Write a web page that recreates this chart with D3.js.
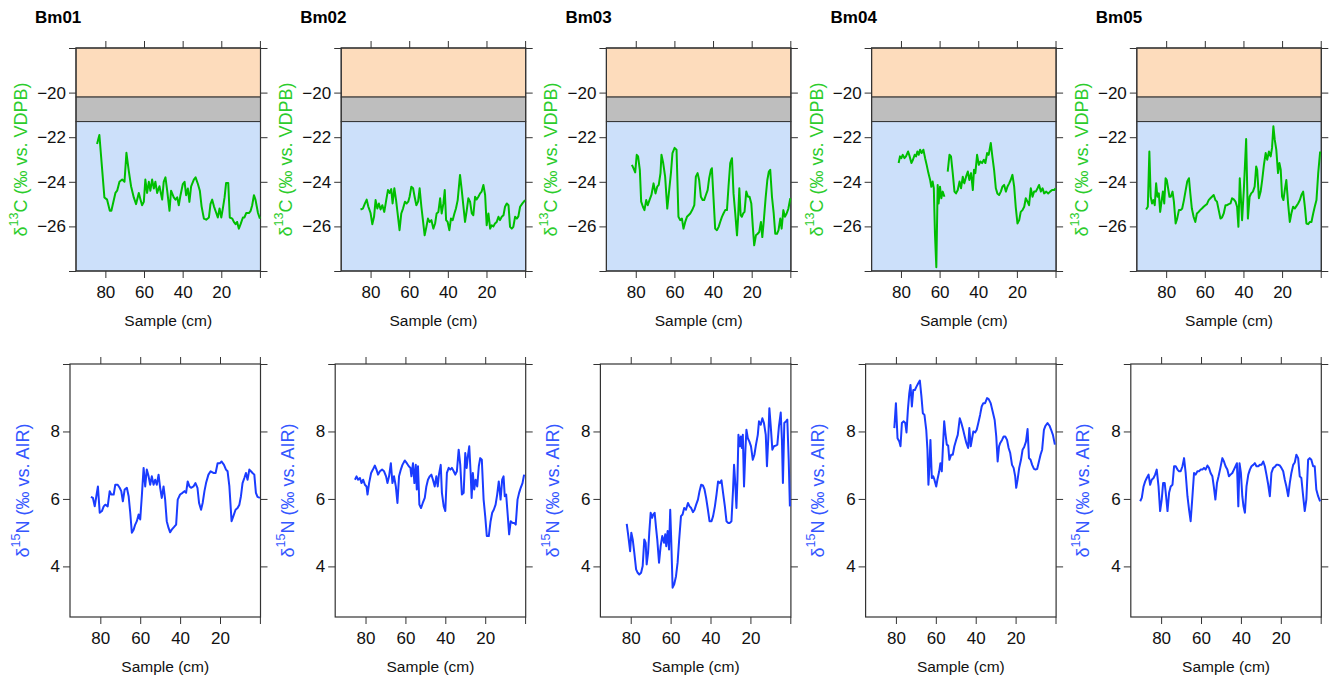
<!DOCTYPE html>
<html>
<head>
<meta charset="utf-8">
<script src="https://cdn.jsdelivr.net/npm/d3@7"></script>
<style>
  body { margin: 0; background: #fff; }
  text { font-family: "Liberation Sans", Arial, sans-serif; }
</style>
</head>
<body>
<div id="chart"></div>
<script>
//Dimensions of the whole figure
const width = 1331;
const height = 677;

//Core names (one column each)
const cores = ["Bm01", "Bm02", "Bm03", "Bm04", "Bm05"];

//delta 13C series, [depth (cm), value]
const bm01C = [[84.3,-22.3],[83.1,-21.9],[80.5,-24.7],[79.1,-24.8],[77.7,-25.3],[76.9,-25.3],[74.8,-24.5],[73.9,-24.4],[72.7,-24.0],[71.3,-23.9],[70.1,-24.0],[69.1,-22.7],[67.9,-23.5],[66.7,-24.2],[65.3,-24.7],[64.1,-25.0],[62.7,-24.5],[61.8,-24.8],[61.0,-25.05],[60.1,-24.9],[59.3,-23.9],[58.4,-24.5],[57.5,-24.0],[56.7,-24.4],[55.8,-23.9],[54.9,-24.3],[54.1,-24.0],[53.2,-24.5],[52.0,-24.2],[50.6,-24.8],[49.8,-24.0],[48.9,-23.8],[48.0,-24.4],[46.8,-25.3],[46.0,-24.4],[44.6,-24.7],[43.7,-24.8],[42.8,-24.7],[42.0,-25.05],[41.1,-24.6],[39.9,-24.1],[39.0,-24.0],[38.2,-24.6],[37.3,-24.3],[36.5,-24.9],[35.6,-24.2],[34.2,-23.9],[33.3,-23.8],[32.1,-24.1],[31.1,-24.4],[30.2,-25.1],[29.0,-25.65],[27.8,-25.7],[26.4,-25.6],[25.6,-25.0],[24.7,-24.8],[23.8,-25.1],[22.6,-25.4],[21.8,-25.6],[20.9,-25.2],[20.0,-25.6],[19.2,-25.2],[18.3,-24.7],[17.5,-24.05],[16.4,-24.05],[15.6,-25.6],[14.3,-25.65],[13.5,-25.8],[12.6,-25.9],[11.8,-25.8],[10.9,-26.1],[10.0,-25.9],[8.8,-25.6],[8.0,-25.6],[7.1,-25.4],[5.7,-25.4],[4.8,-25.3],[4.0,-25.05],[3.1,-24.6],[2.3,-24.8],[1.0,-25.4],[0.0,-25.65]];
const bm02C = [[85.2,-25.24],[84.0,-25.2],[82.9,-24.97],[82.0,-24.8],[81.2,-25.1],[80.0,-25.4],[79.1,-25.9],[78.2,-25.57],[77.4,-24.82],[76.5,-25.2],[75.7,-24.97],[74.8,-25.24],[73.9,-25.05],[72.9,-25.35],[71.9,-24.82],[71.0,-24.37],[70.1,-24.5],[69.3,-24.33],[68.6,-24.97],[67.7,-24.29],[66.8,-24.82],[66.0,-25.42],[65.0,-26.17],[64.1,-25.42],[63.2,-25.2],[62.2,-24.89],[61.3,-24.97],[60.5,-24.89],[59.8,-24.67],[58.9,-24.22],[58.0,-24.29],[57.2,-24.67],[56.3,-25.05],[55.4,-24.89],[54.6,-24.29],[53.7,-25.12],[52.9,-25.72],[52.0,-26.4],[51.1,-26.02],[50.3,-25.65],[49.4,-25.8],[48.5,-25.72],[47.5,-26.1],[46.6,-25.87],[45.8,-25.42],[44.9,-25.35],[44.0,-24.74],[43.2,-25.42],[42.3,-24.97],[41.6,-24.37],[40.9,-25.72],[40.1,-25.8],[39.2,-26.17],[38.4,-25.65],[37.5,-25.72],[36.6,-25.42],[35.8,-25.2],[34.9,-24.82],[33.7,-23.69],[32.8,-24.37],[32.0,-25.05],[31.1,-25.8],[30.2,-25.27],[29.4,-24.74],[28.5,-24.89],[27.6,-25.42],[26.8,-25.5],[25.9,-24.67],[25.1,-24.79],[24.2,-24.67],[23.3,-24.52],[22.5,-24.44],[21.6,-24.14],[20.7,-24.59],[19.9,-25.95],[19.0,-25.42],[18.1,-26.1],[17.3,-25.95],[16.4,-26.0],[15.6,-25.87],[14.7,-25.8],[13.8,-25.57],[13.0,-25.72],[12.1,-25.57],[11.2,-25.5],[10.4,-25.12],[9.5,-24.97],[8.6,-25.05],[7.8,-26.02],[6.9,-26.1],[6.1,-26.02],[5.2,-25.57],[4.3,-25.65],[3.5,-25.55],[2.6,-25.12],[1.4,-24.97],[0.0,-24.82]];
const bm03C = [[82.0,-23.24],[81.2,-23.39],[80.3,-23.58],[79.5,-22.79],[78.8,-22.86],[77.9,-23.46],[77.2,-24.89],[76.3,-25.12],[75.5,-25.27],[74.6,-24.82],[73.8,-25.05],[72.9,-24.82],[71.9,-24.59],[70.8,-24.07],[69.8,-24.52],[68.9,-24.22],[68.1,-24.14],[67.2,-23.61],[66.7,-22.79],[65.8,-23.16],[64.8,-23.77],[63.7,-25.2],[62.7,-24.37],[61.8,-23.61],[61.0,-22.71],[59.9,-22.48],[58.9,-22.56],[57.9,-25.57],[57.0,-25.72],[56.1,-25.65],[55.3,-26.1],[54.4,-25.8],[53.5,-25.57],[52.7,-25.5],[51.8,-25.42],[50.8,-25.27],[49.7,-25.05],[48.9,-23.77],[48.0,-23.61],[47.2,-23.92],[46.3,-24.67],[45.4,-24.82],[44.6,-24.82],[43.7,-24.59],[42.8,-24.37],[42.0,-23.84],[41.1,-23.46],[40.6,-23.39],[39.7,-24.82],[38.9,-26.1],[38.0,-26.17],[37.1,-26.02],[36.3,-25.8],[35.4,-25.57],[34.6,-25.42],[33.7,-25.27],[32.8,-25.27],[32.0,-24.22],[31.1,-23.16],[30.2,-22.94],[29.4,-24.52],[28.5,-25.42],[27.6,-26.4],[27.0,-25.57],[26.4,-24.29],[25.7,-25.5],[25.1,-25.57],[24.4,-25.42],[23.7,-25.35],[22.8,-24.44],[21.9,-24.67],[21.1,-24.67],[20.2,-24.97],[19.4,-26.02],[18.7,-26.85],[17.8,-26.4],[16.9,-26.33],[16.1,-26.25],[15.2,-25.8],[14.5,-26.48],[13.7,-25.72],[12.8,-24.74],[11.9,-23.92],[11.1,-23.54],[10.4,-23.46],[9.5,-24.67],[8.6,-25.42],[7.8,-26.33],[6.9,-26.33],[6.1,-26.17],[5.2,-25.65],[4.5,-26.1],[3.6,-25.27],[2.8,-25.57],[1.9,-25.42],[1.0,-25.2],[0.0,-24.74]];
const bm04C = [[81.2,-23.16],[80.5,-22.86],[79.8,-22.94],[79.1,-22.79],[78.2,-22.94],[77.4,-22.86],[76.3,-22.64],[75.5,-22.86],[74.6,-23.16],[73.8,-23.01],[72.9,-22.79],[72.2,-22.86],[71.5,-22.64],[70.8,-22.79],[70.1,-22.56],[69.3,-22.71],[68.4,-22.56],[67.5,-22.94],[66.7,-23.24],[65.8,-23.61],[64.9,-23.92],[64.3,-24.22],[63.6,-23.99],[63.0,-24.29],[62.4,-26.33],[61.7,-27.83],[61.0,-24.14],[60.5,-24.97],[59.8,-24.22],[59.1,-24.74],[58.4,-24.44],[57.5,-24.67],[56.6,null],[55.8,-23.54],[54.9,-22.79],[54.1,-22.86],[53.2,-23.61],[52.3,-24.44],[51.5,-24.52],[50.6,-24.37],[49.7,-23.99],[48.9,-24.29],[48.0,-23.77],[47.2,-24.07],[46.3,-23.77],[45.4,-23.54],[44.6,-23.92],[43.7,-23.61],[42.8,-24.37],[42.2,-23.46],[41.5,-23.61],[40.6,-22.79],[39.7,-23.24],[38.9,-23.09],[38.0,-23.16],[37.1,-23.01],[36.3,-23.16],[35.4,-22.71],[34.6,-22.79],[33.5,-22.26],[32.7,-22.86],[31.8,-23.46],[30.9,-24.29],[30.1,-24.52],[29.2,-24.59],[28.3,-24.44],[27.5,-24.22],[26.6,-24.14],[25.7,-24.44],[24.9,-24.22],[24.0,-24.07],[23.2,-23.92],[22.3,-23.69],[21.4,-24.22],[20.6,-25.12],[19.7,-25.87],[18.8,-25.72],[18.0,-25.35],[17.1,-25.27],[16.2,-25.12],[15.4,-24.74],[14.5,-24.89],[13.7,-25.05],[12.8,-24.29],[11.9,-24.67],[11.1,-24.44],[10.2,-24.44],[9.3,-24.29],[8.5,-24.14],[7.6,-24.44],[6.7,-24.29],[5.9,-24.52],[4.8,-24.44],[3.8,-24.52],[2.8,-24.44],[1.8,-24.37],[0.7,-24.37],[0.0,-24.29]];
const bm05C = [[90.4,-25.24],[89.5,-25.12],[88.7,-22.64],[88.0,-24.67],[87.3,-24.97],[86.6,-24.82],[85.9,-25.05],[85.2,-24.07],[84.5,-24.67],[83.8,-24.52],[83.1,-25.35],[82.4,-24.89],[81.7,-24.44],[81.0,-24.97],[80.3,-23.84],[79.7,-23.92],[79.0,-24.29],[78.3,-24.67],[77.6,-24.67],[76.7,-24.44],[76.0,-24.89],[75.1,-25.87],[74.3,-25.65],[73.4,-25.27],[72.5,-25.27],[71.7,-25.2],[70.8,-24.82],[69.9,-24.37],[69.1,-23.99],[68.2,-23.84],[67.5,-24.52],[66.7,-25.2],[65.8,-25.57],[64.9,-25.8],[64.1,-25.42],[63.2,-25.35],[62.4,-25.27],[61.5,-25.2],[60.6,-25.12],[59.7,-25.05],[58.9,-25.0],[58.0,-24.82],[57.1,-24.74],[56.3,-24.67],[55.4,-24.59],[54.5,-24.82],[53.7,-24.89],[52.8,-25.27],[51.9,-25.65],[51.1,-25.6],[50.2,-25.42],[49.3,-25.05],[48.5,-25.05],[47.6,-25.0],[46.7,-24.97],[45.9,-24.74],[45.0,-24.79],[44.1,-24.89],[43.3,-25.12],[42.6,-26.02],[41.9,-23.84],[40.7,-25.72],[39.8,-24.37],[38.6,-22.08],[37.7,-25.65],[36.8,-24.67],[36.0,-24.52],[35.1,-24.44],[34.2,-24.22],[33.4,-23.31],[32.9,-23.46],[32.0,-24.74],[31.1,-24.44],[30.3,-23.92],[29.4,-23.24],[28.5,-22.71],[27.7,-23.01],[26.8,-22.64],[25.9,-22.86],[25.2,-22.48],[24.5,-21.51],[23.8,-22.11],[23.0,-22.56],[22.1,-23.61],[21.4,-23.16],[20.7,-23.46],[20.0,-24.67],[19.3,-24.82],[18.6,-24.37],[17.8,-23.92],[16.9,-24.97],[16.0,-25.8],[15.2,-25.42],[14.3,-25.12],[13.4,-25.2],[12.6,-25.09],[11.7,-24.97],[10.8,-24.82],[10.0,-24.59],[9.1,-24.44],[8.2,-25.12],[7.4,-25.87],[6.5,-25.9],[5.6,-25.8],[4.8,-25.8],[3.9,-25.42],[3.1,-25.12],[2.2,-24.82],[1.3,-23.61],[0.3,-22.64]];

//delta 15N series, [depth (cm), value]
const bm01N = [[84.7,6.06],[83.7,6.03],[82.8,5.78],[82.0,6.08],[81.2,6.37],[80.3,5.59],[79.2,5.64],[78.3,5.78],[77.5,5.83],[76.3,5.78],[75.3,6.23],[74.5,6.13],[73.3,6.13],[72.5,6.42],[71.3,6.42],[70.3,6.33],[69.5,6.23],[68.7,5.93],[67.8,6.28],[66.7,6.33],[65.8,6.08],[65.0,5.59],[64.2,5.0],[63.3,5.09],[62.5,5.24],[61.7,5.34],[60.8,5.54],[60.0,5.39],[59.2,6.08],[58.3,6.92],[57.5,6.37],[56.7,6.87],[55.8,6.67],[55.0,6.42],[54.2,6.67],[53.3,6.42],[52.5,6.57],[51.7,6.42],[50.8,6.72],[50.0,6.33],[49.2,6.03],[48.3,6.37],[47.5,5.98],[46.7,5.34],[45.8,5.14],[45.0,5.01],[44.2,5.09],[43.0,5.17],[42.0,5.24],[41.2,5.98],[40.0,6.13],[38.8,6.18],[37.8,6.23],[37.0,6.18],[36.2,6.52],[35.3,6.37],[34.5,6.33],[33.3,6.37],[32.3,6.47],[31.3,6.33],[30.5,5.88],[29.5,5.68],[28.7,5.88],[27.8,6.23],[27.0,6.47],[25.8,6.72],[24.7,6.82],[23.3,6.77],[22.2,6.77],[21.2,7.06],[20.0,7.06],[19.2,7.11],[18.0,7.01],[17.0,6.87],[16.2,6.82],[15.3,6.37],[14.2,5.34],[13.3,5.49],[12.2,5.68],[11.2,5.73],[10.3,5.83],[9.5,6.08],[8.7,6.47],[7.8,6.62],[7.0,6.77],[6.2,6.57],[5.3,6.87],[4.5,6.82],[3.7,6.77],[2.8,6.72],[2.0,6.18],[1.2,6.06],[0.0,6.03]];
const bm02N = [[85.3,6.57],[84.5,6.67],[83.7,6.57],[82.8,6.62],[82.0,6.47],[81.2,6.57],[80.3,6.42],[79.5,6.37],[79.0,6.13],[78.2,6.47],[77.2,6.77],[76.3,6.87],[75.3,6.99],[74.5,6.87],[73.7,6.72],[72.8,6.82],[71.7,6.87],[70.7,6.82],[69.7,6.67],[69.0,6.47],[68.2,6.67],[67.3,7.06],[66.5,6.47],[65.7,6.67],[64.8,6.37],[64.0,5.88],[63.2,6.67],[62.3,6.87],[61.5,7.01],[60.3,7.14],[59.3,7.06],[58.3,6.97],[57.5,6.92],[57.0,6.67],[56.2,7.06],[55.5,6.47],[54.8,7.01],[54.3,6.28],[53.7,6.97],[53.0,5.83],[52.2,5.73],[51.3,5.88],[50.3,6.03],[49.5,6.37],[48.7,6.57],[47.8,6.67],[47.0,6.72],[46.2,6.57],[45.3,6.37],[44.5,6.67],[43.8,6.37],[43.2,6.72],[42.3,7.01],[41.7,6.18],[40.8,5.78],[40.0,5.64],[39.2,6.77],[38.3,6.92],[37.5,6.87],[36.7,6.92],[35.8,6.82],[35.0,6.72],[34.2,6.82],[33.3,7.46],[32.5,7.01],[31.7,6.13],[30.8,6.18],[30.0,7.36],[29.3,6.92],[28.7,7.26],[28.0,7.56],[27.3,6.77],[26.8,6.03],[26.2,6.77],[25.5,6.28],[24.8,6.57],[24.0,6.37],[23.2,6.97],[22.5,7.21],[21.7,7.16],[20.8,5.98],[20.0,5.49],[19.2,4.9],[18.2,4.9],[17.3,5.34],[16.5,5.59],[15.7,5.68],[14.8,5.83],[14.0,6.13],[13.2,6.52],[12.3,5.98],[11.5,6.57],[10.8,6.67],[10.2,6.08],[9.5,6.13],[8.8,5.59],[8.0,4.95],[7.2,5.34],[6.3,5.29],[5.5,5.29],[4.7,5.24],[3.8,5.98],[3.0,6.18],[2.2,6.33],[1.3,6.47],[0.5,6.72]];
const bm03N = [[82.0,5.26],[81.2,4.9],[80.3,4.45],[79.7,5.0],[79.0,4.8],[78.2,4.4],[77.3,3.91],[76.5,3.81],[75.7,3.76],[74.8,3.81],[74.0,4.01],[73.2,4.8],[72.5,4.7],[72.0,4.06],[71.3,4.4],[70.7,5.0],[70.0,5.59],[69.3,5.44],[68.7,5.54],[68.0,5.59],[67.3,5.14],[66.7,4.8],[65.8,4.11],[65.0,4.6],[64.2,4.9],[63.3,4.7],[62.7,4.95],[62.2,4.6],[61.5,5.05],[60.8,4.5],[60.2,5.68],[59.7,4.8],[59.0,3.37],[58.2,3.47],[57.3,3.71],[56.5,4.11],[55.7,4.8],[54.8,5.49],[54.0,5.54],[53.2,5.73],[52.3,5.68],[51.3,5.88],[50.5,5.78],[49.7,5.73],[48.8,5.61],[48.0,5.68],[47.2,5.83],[46.3,5.98],[45.5,6.23],[44.7,6.42],[43.8,6.4],[43.0,6.28],[42.2,6.03],[41.3,5.68],[40.5,5.34],[39.5,5.34],[38.7,5.49],[37.8,5.78],[37.0,6.13],[36.2,6.52],[35.3,6.47],[34.5,6.55],[33.7,6.18],[32.8,5.78],[32.0,5.34],[31.2,5.29],[30.3,5.29],[29.5,5.34],[28.7,6.28],[28.2,7.01],[27.7,6.57],[27.0,5.73],[26.5,6.57],[26.0,7.9],[25.3,7.56],[24.8,7.85],[24.3,7.51],[23.8,7.9],[23.2,6.37],[22.5,7.46],[22.0,8.05],[21.3,7.8],[20.5,7.7],[19.7,7.56],[18.8,7.16],[18.0,7.31],[17.2,7.61],[16.3,7.9],[15.7,8.3],[14.8,8.2],[14.0,8.39],[13.2,8.25],[12.3,7.9],[11.7,6.97],[11.0,7.85],[10.5,8.69],[9.8,8.15],[9.0,7.46],[8.2,7.56],[7.3,7.58],[6.5,7.61],[5.7,8.15],[4.8,8.56],[4.2,7.75],[3.7,6.47],[3.0,8.25],[2.2,8.3],[1.5,8.35],[0.8,7.16],[0.2,5.78]];
const bm04N = [[80.8,8.1],[80.0,8.84],[79.2,7.8],[78.3,7.7],[77.7,7.56],[77.0,8.25],[76.2,8.3],[75.3,8.25],[74.7,7.97],[74.0,8.64],[73.3,9.13],[72.7,9.38],[72.0,8.74],[71.3,9.23],[70.5,9.23],[69.7,9.33],[68.8,9.43],[68.0,9.51],[67.2,9.03],[66.5,8.54],[65.7,8.49],[64.8,8.05],[64.2,7.46],[63.7,6.42],[63.2,6.97],[62.7,7.75],[62.0,6.62],[61.3,6.67],[60.7,6.57],[59.8,6.37],[59.2,6.57],[58.3,6.82],[57.7,7.06],[57.0,6.82],[56.5,7.46],[55.8,8.3],[55.2,7.95],[54.5,7.61],[53.8,7.58],[53.2,7.16],[52.3,7.31],[51.5,7.31],[50.7,7.56],[49.8,7.75],[49.0,7.9],[48.0,8.39],[47.2,8.25],[46.3,8.05],[45.5,7.85],[44.7,7.66],[43.8,7.51],[43.2,8.1],[42.5,7.56],[41.8,7.8],[41.2,8.0],[40.3,7.97],[39.5,8.05],[38.7,8.25],[37.8,8.49],[37.0,8.74],[36.2,8.84],[35.3,8.84],[34.3,8.99],[33.5,8.96],[32.5,8.84],[31.5,8.59],[30.5,8.34],[29.7,7.85],[29.0,7.11],[28.3,7.56],[27.7,7.66],[26.8,7.75],[26.0,7.85],[25.2,7.85],[24.3,7.75],[23.5,7.51],[22.7,7.36],[21.8,7.01],[21.0,6.92],[20.2,6.67],[19.7,6.33],[19.0,6.57],[18.2,6.92],[17.3,7.16],[16.5,7.46],[15.7,7.54],[14.8,7.7],[14.0,8.07],[13.3,7.21],[12.5,7.16],[11.7,7.01],[10.8,6.89],[10.0,6.87],[9.2,6.89],[8.3,7.11],[7.5,7.31],[6.7,7.46],[5.8,8.05],[5.0,8.17],[4.0,8.25],[3.0,8.17],[2.2,8.05],[1.3,7.9],[0.3,7.61]];
const bm05N = [[90.5,5.93],[89.7,6.03],[88.8,6.37],[88.0,6.52],[87.2,6.62],[86.3,6.72],[85.5,6.42],[84.7,6.57],[83.8,6.62],[83.0,6.72],[82.2,6.87],[81.3,6.37],[80.5,5.64],[79.7,5.98],[79.0,6.47],[78.2,6.47],[77.5,6.08],[76.8,5.64],[76.0,6.18],[75.2,6.37],[74.3,6.42],[73.5,6.97],[72.7,6.97],[71.8,6.87],[71.0,6.82],[70.2,6.82],[69.3,6.97],[68.5,7.21],[67.7,6.77],[66.8,6.08],[66.0,5.68],[65.2,5.34],[64.3,6.08],[63.5,6.77],[62.7,6.72],[61.8,6.82],[61.0,6.82],[60.2,6.87],[59.3,6.87],[58.5,6.92],[57.7,6.87],[56.8,6.99],[56.0,6.92],[55.2,6.77],[54.3,6.67],[53.5,6.33],[52.8,5.98],[52.0,6.47],[51.2,6.67],[50.3,6.92],[49.3,7.21],[48.5,7.11],[47.7,6.97],[46.8,6.87],[46.0,6.67],[45.2,6.72],[44.3,6.77],[43.5,6.87],[42.7,6.97],[42.0,7.06],[41.3,5.78],[40.7,7.06],[40.0,6.77],[39.3,6.08],[38.7,5.78],[38.0,5.59],[37.2,6.37],[36.3,6.72],[35.5,6.87],[34.7,6.97],[33.8,7.01],[33.0,7.06],[32.2,6.97],[31.3,6.97],[30.5,7.01],[29.7,7.01],[28.8,7.11],[28.0,6.97],[27.2,6.72],[26.3,6.42],[25.5,6.08],[24.7,6.77],[23.8,6.92],[23.0,6.95],[22.2,7.01],[21.3,7.01],[20.5,6.99],[19.7,6.92],[18.8,6.82],[18.0,6.57],[17.2,6.37],[16.3,6.08],[15.5,6.47],[14.7,6.77],[13.8,7.01],[13.0,7.08],[12.2,7.31],[11.3,7.21],[10.5,6.67],[9.7,6.62],[8.8,6.08],[8.0,5.64],[7.2,5.98],[6.3,7.16],[5.5,7.21],[4.7,7.16],[3.8,6.97],[3.0,6.97],[2.2,6.28],[1.3,6.08],[0.3,5.93]];

const carbonSeries = [bm01C, bm02C, bm03C, bm04C, bm05C];
const nitrogenSeries = [bm01N, bm02N, bm03N, bm04N, bm05N];

//Axis ranges and ticks
const depthDomain = [95.2, -0.3];
const depthTicks = [80, 60, 40, 20, 0];
const depthLabels = [80, 60, 40, 20];
const carbonDomain = [-28, -18];
const carbonTicks = [-18, -20, -22, -24, -26, -28];
const carbonLabels = [-20, -22, -24, -26];
const nitrogenDomain = [2.5, 10];
const nitrogenTicks = [10, 8, 6, 4];
const nitrogenLabels = [8, 6, 4];

//Reference zones behind the 13C curves (upper / lower limits)
const zoneLimits = [[-20.2, -18], [-21.3, -20.2], [-28, -21.3]];
const zoneColors = ["#fddcbc", "#bebebe", "#cce0fa"];

//Layout
const colStep = 265.2;
const tickLen = 7;
const axisColor = "#333";

const rows = [
    { series: carbonSeries, top: 48, bottom: 271, left: 76, yDomain: carbonDomain, yTicks: carbonTicks, yLabels: carbonLabels,
      lineColor: "#00be00", labelColor: "#2ccc2c", labelX: 21, iso: "13", elem: "C (‰ vs. VDPB)", zones: true, xLabelY: 320 },
    { series: nitrogenSeries, top: 364, bottom: 617, left: 70, yDomain: nitrogenDomain, yTicks: nitrogenTicks, yLabels: nitrogenLabels,
      lineColor: "#1a3cff", labelColor: "#3456ff", labelX: 22.5, iso: "15", elem: "N (‰ vs. AIR)", zones: false, xLabelY: 666 }
];

//Create the svg element
const svg = d3.select("#chart").append("svg").attr("width", width).attr("height", height);

//Titles on top of each column
svg.selectAll(".title").data(cores).enter().append("text")
    .attr("class", "title")
    .attr("x", (d, i) => 35 + i * colStep)
    .attr("y", 23)
    .style("font-size", "17px").style("font-weight", "bold").attr("fill", "#000")
    .text(d => d);

rows.forEach(row => {
    row.series.forEach((data, i) => {
        const x0 = row.left + i * colStep;
        const x1 = 260.5 + i * colStep;

        const xscale = d3.scaleLinear().domain(depthDomain).range([x0, x1]);
        const yscale = d3.scaleLinear().domain(row.yDomain).range([row.bottom, row.top]);

        const g = svg.append("g");

        //Background zones
        if (row.zones) {
            g.selectAll("rect.zone").data(zoneLimits).enter().append("rect")
                .attr("class", "zone")
                .attr("x", x0).attr("width", x1 - x0)
                .attr("y", d => yscale(d[1])).attr("height", d => yscale(d[0]) - yscale(d[1]))
                .attr("fill", (d, k) => zoneColors[k])
                .attr("stroke", axisColor).attr("stroke-width", 1);
        }

        //Axes on all four sides, labels only left and bottom
        const fmtY = d => row.yLabels.includes(d) ? d3.format("d")(d) : "";
        const fmtX = d => depthLabels.includes(d) ? d3.format("d")(d) : "";
        const axes = [
            [d3.axisLeft(yscale).tickValues(row.yTicks).tickFormat(fmtY), `translate(${x0},0)`],
            [d3.axisRight(yscale).tickValues(row.yTicks).tickFormat(""), `translate(${x1},0)`],
            [d3.axisBottom(xscale).tickValues(depthTicks).tickFormat(fmtX), `translate(0,${row.bottom})`],
            [d3.axisTop(xscale).tickValues(depthTicks).tickFormat(""), `translate(0,${row.top})`]
        ];
        axes.forEach(([ax, tr], k) => {
            const a = g.append("g").attr("transform", tr)
                .call(ax.tickSizeInner(tickLen).tickSizeOuter(0).tickPadding(k === 2 ? 8 : 3));
            a.select(".domain").remove();
            a.selectAll("line").attr("stroke", axisColor).attr("stroke-width", 1);
            a.selectAll("text").attr("fill", "#111").style("font-size", "17px").attr("font-family", null);
        });

        //Plot box
        g.append("rect").attr("x", x0).attr("y", row.top)
            .attr("width", x1 - x0).attr("height", row.bottom - row.top)
            .attr("fill", "none").attr("stroke", axisColor).attr("stroke-width", 1.2);

        //The isotope curve
        const line = d3.line()
            .defined(d => d[1] != null)
            .x(d => xscale(d[0]))
            .y(d => yscale(d[1]));
        g.append("path").datum(data)
            .attr("d", line)
            .attr("fill", "none")
            .attr("stroke", row.lineColor)
            .attr("stroke-width", 2)
            .attr("stroke-linejoin", "round");

        //x axis label
        g.append("text")
            .attr("x", (x0 + x1) / 2).attr("y", row.xLabelY)
            .attr("text-anchor", "middle").attr("dominant-baseline", "central")
            .style("font-size", "15.5px").attr("fill", "#111")
            .text("Sample (cm)");

        //y axis label with superscript
        const cy = (row.top + row.bottom) / 2;
        const yl = g.append("text")
            .attr("transform", `translate(${row.labelX + i * colStep},${cy}) rotate(-90)`)
            .attr("text-anchor", "middle").attr("dominant-baseline", "central")
            .style("font-size", "18px").attr("fill", row.labelColor);
        yl.append("tspan").text("δ");
        yl.append("tspan").attr("dy", -7).style("font-size", "12.5px").text(row.iso);
        yl.append("tspan").attr("dy", 7).text(row.elem);
    });
});
</script>
</body>
</html>
